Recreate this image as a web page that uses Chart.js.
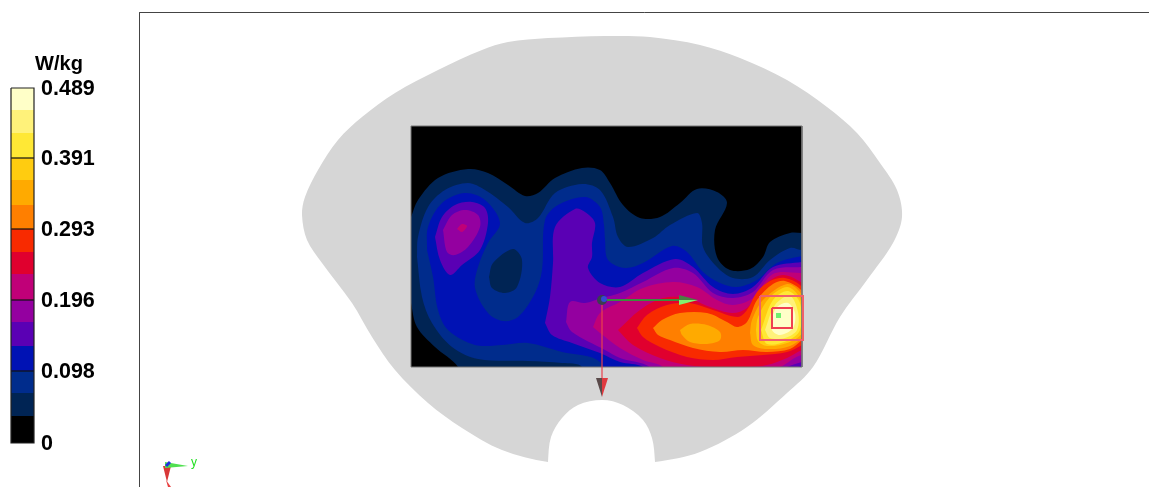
<!DOCTYPE html>
<html><head><meta charset="utf-8">
<style>html,body{margin:0;padding:0;background:#fff;overflow:hidden}canvas{display:block}</style>
<script src="https://cdn.jsdelivr.net/npm/chart.js@4"></script>
</head><body><canvas id="c" width="1149" height="487"></canvas>
<script>
const unitLabel = 'W/kg';
const scaleTickLabels = ['0.489','0.391','0.293','0.196','0.098','0'];
const scaleTickRows = [88,158,229,300,371,443];
const bandEdges = [88,110,133,158,180,205,229,252,274,300,322,346,371,393,416,443];
const bandColors = ['#FFFFC8','#FFF27A','#FFE835','#FFCC10','#FFAA00','#FF7F00','#F82A00','#E0002E','#C00078','#9400A0','#5A00B4','#0012B4','#002C8C','#002454','#000000'];

const phantom = [[548,38],[605,36],[650,37],[700,45],[740,58],[787,80],[827,107],[857,133],[880,163],[897,190],[902,217],[893,243],[867,280],[840,317],[813,367],[787,393],[747,427],[700,452],[655,462],[602,466],[548,462],[502,450],[462,428],[428,403],[395,370],[372,337],[352,303],[322,263],[307,240],[302,215],[305,197],[318,170],[338,140],[362,117],[395,93],[438,70],[482,50],[508,42]];
const notch = [[548,482],[548,462],[551,437],[562,418],[578,405],[602,400],[623,405],[643,420],[652,438],[655,462],[655,482]];
const scanBox = [[411,126],[802,126],[802,367],[411,367]];

const level1 = [[405,230],[411,217],[418,200],[438,178],[468,169],[488,173],[508,185],[525,196],[538,193],[555,178],[582,168],[600,170],[610,183],[623,205],[640,218],[660,217],[680,203],[697,189],[717,192],[727,203],[715,230],[717,257],[730,270],[750,269],[763,257],[770,242],[790,233],[802,233],[830,233],[830,400],[470,400],[458,367],[435,347],[417,327],[411,303],[404,270]];
const level2 = [[417,257],[418,237],[428,207],[445,190],[468,183],[485,190],[508,207],[525,223],[538,218],[555,193],[582,184],[600,190],[613,217],[618,237],[628,247],[653,238],[670,225],[697,213],[702,223],[703,247],[717,267],[733,278],[753,277],[770,260],[790,248],[802,250],[830,248],[830,400],[590,400],[582,367],[562,363],[528,361],[478,359],[452,347],[432,323],[422,297]];
const level3 = [[427,250],[428,227],[442,203],[465,193],[485,200],[500,223],[488,243],[478,267],[475,288],[488,313],[503,321],[518,317],[535,293],[542,270],[545,220],[558,205],[585,197],[600,207],[604,225],[605,240],[608,260],[625,268],[643,263],[672,246],[687,252],[703,272],[720,283],[737,287],[757,280],[777,263],[802,256],[830,252],[830,400],[612,400],[600,362],[562,352],[528,343],[502,345],[475,345],[448,330],[438,310],[433,277]];
const level1Hole = [[489,277],[493,263],[513,249],[522,260],[517,287],[505,293],[492,288]];
const level4Left = [[435,237],[442,217],[455,205],[472,202],[485,208],[488,223],[480,250],[462,265],[450,275],[440,260]];
const level5Left = [[443,230],[452,215],[465,210],[478,215],[480,227],[468,247],[455,255],[447,252]];
const level6Left = [[457,229],[462,224],[467,226],[462,232]];
const level4 = [[545,323],[550,297],[553,263],[555,227],[575,209],[585,212],[595,223],[592,243],[592,257],[588,268],[600,283],[620,287],[643,273],[675,259],[693,267],[713,287],[733,294],[753,287],[773,267],[802,262],[830,258],[830,370],[802,366],[700,400],[655,385],[643,367],[620,362],[600,353],[572,343],[552,335]];
const level5 = [[566,322],[570,302],[585,303],[602,298],[620,293],[643,282],[673,268],[693,273],[713,293],[733,298],[753,292],[773,270],[802,267],[830,264],[830,365],[802,362],[700,400],[660,385],[650,367],[620,358],[605,350],[572,332]];
const level6 = [[593,327],[600,313],[620,302],[643,288],[673,282],[697,287],[717,300],[733,305],[753,298],[773,274],[802,273],[828,272],[828,360],[802,355],[780,367],[700,395],[670,385],[663,367],[643,360],[620,348],[600,333]];
const level7 = [[618,330],[640,310],[663,298],[687,298],[710,307],[732,313],[747,308],[767,283],[783,275],[802,283],[820,300],[820,345],[802,350],[787,358],[767,365],[747,367],[717,367],[687,365],[660,358],[633,345]];
const level8 = [[637,328],[647,315],[667,305],[690,303],[713,310],[738,317],[747,310],[757,292],[770,281],[785,278],[800,285],[815,305],[815,335],[802,345],[787,352],[763,355],[737,357],[713,360],[687,357],[660,347],[643,337]];
const level9 = [[653,328],[662,320],[680,313],[707,313],[727,322],[737,327],[747,322],[757,300],[773,284],[785,281],[803,292],[810,313],[808,335],[802,340],[790,349],[767,352],[743,350],[720,352],[693,348],[670,340],[658,335]];
const level10Mid = [[680,330],[690,324],[707,325],[720,332],[720,340],[707,344],[690,342],[682,335]];
const level10Hot = [[750,333],[752,320],[763,300],[787,284],[800,292],[805,307],[805,333],[790,346],[767,349],[753,345]];
const level11 = [[756,330],[758,317],[770,297],[787,287],[798,295],[803,310],[802,333],[787,343],[767,346],[758,341]];
const level12 = [[761,330],[773,300],[788,291],[800,303],[800,330],[787,341],[767,344]];
const level13 = [[765,330],[775,305],[790,296],[798,312],[797,330],[785,338],[770,338]];
const level14 = [[772,317],[777,307],[788,303],[795,313],[793,328],[780,335],[772,330]];

const peakOuter = [[760,296],[803,296],[803,340],[760,340]];
const peakInner = [[772,308],[792,308],[792,328],[772,328]];
const peakDot = [[776,313],[781,313],[781,318],[776,318]];
const yAxisArrow = [[602,300],[680,300]];
const yConeDark = [[679,295],[698,300],[679,300]];
const yConeLight = [[679,300],[698,300],[679,305],[679,295]];
const xAxisArrow = [[602,300],[602,380]];
const xConeDark = [[596,378],[602,378],[602,397]];
const xConeLight = [[602,378],[608,378],[602,397]];
const frameLines = [[1149,12.5],[139.5,12.5],[139.5,487]];
const triadYCone = [[165,462],[188,466],[165,468]];
const triadXCone = [[163,466],[171,466],[167,482]];
const triadXTail = [[166,480],[168,487],[171,487]];
const triadZ = [[166,466],[170,462]];
const originDark = [[602,300]];
const originBlue = [[604,299]];
const triadLabel = 'y';

const heat = [
  [level1,'#002454'],[level2,'#002C8C'],[level3,'#0012B4'],[level1Hole,'#002454'],
  [level4Left,'#5A00B4'],[level5Left,'#9400A0'],[level6Left,'#C00078'],
  [level4,'#5A00B4'],[level5,'#9400A0'],[level6,'#C00078'],[level7,'#E0002E'],[level8,'#F82A00'],
  [level9,'#FF7F00'],[level10Mid,'#FFAA00'],[level10Hot,'#FFAA00'],[level11,'#FFCC10'],
  [level12,'#FFE835'],[level13,'#FFF27A'],[level14,'#FFFFC8']
];

const paint = [];
function pts(a, close){ const r = a.map(p=>({x:p[0],y:p[1]})); if(close) r.push({x:a[0][0],y:a[0][1]}); return r; }
function shape(a,color,tension,tag){ paint.push({data:pts(a,true),fill:'shape',backgroundColor:color,borderWidth:0,tension:tension||0,tag:tag}); }
function stroke(a,color,w,close){ paint.push({data:pts(a,close),fill:false,borderColor:color,borderWidth:w,tension:0}); }
function dot(a,color,r){ paint.push({data:pts(a),fill:false,showLine:false,pointRadius:r,pointBackgroundColor:color,pointBorderWidth:0}); }

shape(phantom,'#D6D6D6',0.33);
shape(notch,'#FFFFFF',0.33);
shape(scanBox,'#000000',0,'clipStart');
heat.forEach(h=>shape(h[0],h[1],0.33));
paint[paint.length-1].tag='clipEnd';
stroke(scanBox,'#777777',1,true);

bandColors.forEach((c,i)=>shape([[11,bandEdges[i]],[34,bandEdges[i]],[34,bandEdges[i+1]],[11,bandEdges[i+1]]],c,0));
scaleTickRows.slice(1,5).forEach(r=>stroke([[11,r],[34,r]],'#111',1.2));
stroke([[11,88],[34,88],[34,443],[11,443]],'#222',1.2,true);
stroke(frameLines,'#444',1);
stroke(xAxisArrow,'#E8414E',1.2);
stroke(yAxisArrow,'#3C8C3C',2);
shape(yConeLight,'#80F070',0);
shape(yConeDark,'#4B7F42',0);
shape(xConeLight,'#E03A40',0);
shape(xConeDark,'#5A4A4A',0);
stroke(peakOuter,'#F0606A',2,true);
stroke(peakInner,'#F04050',2,true);
shape(peakDot,'#70F070',0);
shape(triadXCone,'#D83838',0);
shape(triadXTail,'#E84040',0);
shape(triadYCone,'#50E050',0);
stroke(triadZ,'#2030E0',3);
dot(originDark,'#3A3F50',5);
dot(originBlue,'#3448D8',3);

const N = paint.length;
const datasets = paint.map((d,i)=>Object.assign({type:'scatter',showLine:d.showLine!==false,pointRadius:0,order:N-i},d));

const overlay = {
  id:'overlay',
  afterDatasetDraw(chart,args){
    const tag = chart.data.datasets[args.index].tag, ctx = chart.ctx, sx = chart.scales.x, sy = chart.scales.y;
    if(tag==='clipStart'){
      ctx.save(); ctx.beginPath();
      const x0=sx.getPixelForValue(scanBox[0][0]), x1=sx.getPixelForValue(scanBox[1][0]);
      const y0=sy.getPixelForValue(scanBox[0][1]), y1=sy.getPixelForValue(scanBox[2][1]);
      ctx.rect(x0,y0,x1-x0,y1-y0); ctx.clip();
    }
    if(tag==='clipEnd') ctx.restore();
  },
  afterDraw(chart){
    const ctx = chart.ctx, sx = chart.scales.x, sy = chart.scales.y;
    ctx.save();
    ctx.fillStyle='#000'; ctx.textBaseline='middle'; ctx.textAlign='left';
    ctx.font='bold 21.5px "Liberation Sans"';
    scaleTickLabels.forEach((t,i)=>{
      ctx.fillText(t,sx.getPixelForValue(41),sy.getPixelForValue(scaleTickRows[i]+1));
    });
    ctx.textAlign='center';
    ctx.font='bold 20px "Liberation Sans"';
    ctx.fillText(unitLabel,sx.getPixelForValue(59),sy.getPixelForValue(64));
    ctx.fillStyle='#22E022'; ctx.font='12px "Liberation Sans"'; ctx.textAlign='left';
    ctx.fillText(triadLabel,sx.getPixelForValue(191),sy.getPixelForValue(463));
    ctx.restore();
  }
};

new Chart(document.getElementById('c'),{
  type:'scatter',
  data:{datasets},
  plugins:[overlay],
  options:{
    responsive:false,animation:false,devicePixelRatio:1,
    layout:{padding:0,autoPadding:false},
    plugins:{legend:{display:false},tooltip:{enabled:false},title:{display:false}},
    scales:{
      x:{type:'linear',display:false,min:0,max:1149},
      y:{type:'linear',display:false,min:0,max:487,reverse:true}
    }
  }
});
</script></body></html>
